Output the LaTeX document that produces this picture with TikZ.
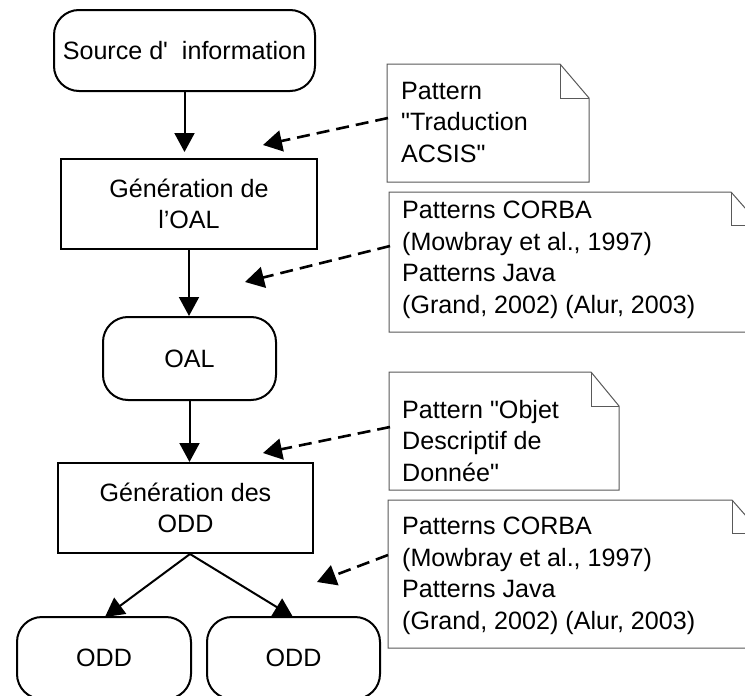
\documentclass[tikz,border=0pt]{standalone}
\usepackage{fontspec}
\setmainfont{Liberation Sans}
\usetikzlibrary{arrows.meta}
\begin{document}
\begin{tikzpicture}[x=1pt,y=-1pt,
  every node/.style={font=\fontsize{25.1}{31}\selectfont, inner sep=0pt},
  rbox/.style n args={2}{draw, line width=2pt, rounded corners=25pt, minimum width=#1pt, minimum height=#2pt, align=center},
  sbox/.style n args={2}{draw, line width=2pt, minimum width=#1pt, minimum height=#2pt, align=center},
  flow/.style={line width=2pt, -{Triangle[length=19pt,width=20pt]}},
  dflow/.style={line width=2.6pt, dash pattern=on 13pt off 7pt, -{Triangle[length=19pt,width=21pt]}},
  notebox/.style={draw=black!65, line width=1pt, line join=miter},
  notetext/.style={anchor=north west, align=left, font=\fontsize{25.1}{31.5}\selectfont}
]
\clip (0,0) rectangle (745,696);
\fill[white] (0,0) rectangle (745,696);

% flow nodes
\node[rbox={261}{81}] (src) at (184.5,50.5) {Source d\textquotesingle\ \ information};
\node[sbox={256}{90}] (genOAL) at (189,204) {Génération de\\l’OAL};
\node[rbox={173}{83}] (oal) at (189.5,358.5) {OAL};
\node[sbox={255}{90}] (genODD) at (185.5,508) {Génération des\\ODD};
\node[rbox={174}{82}] (odd1) at (104,658) {ODD};
\node[rbox={173}{82}] (odd2) at (293.5,658) {ODD};

% solid connectors
\draw[flow, shorten >=6pt] (src.south) -- (src.south |- genOAL.north);
\draw[flow] (genOAL.south) -- (genOAL.south |- oal.north);
\draw[flow] (oal.south) -- (oal.south |- genODD.north);
\coordinate (split) at (190,554);
\draw[flow] (split) -- (105,617);
\draw[flow] (split) -- (293,617);

% notes
\draw[notebox] (387,64) -- (560,64) -- (589,98) -- (589,182) -- (387,182) -- cycle;
\draw[notebox] (560,64) -- (560,98) -- (589,98);
\draw[notebox] (389,192) -- (731,192) -- (760,225) -- (760,332) -- (389,332) -- cycle;
\draw[notebox] (731,192) -- (731,225) -- (760,225);
\draw[notebox] (389,372) -- (591,372) -- (619,406) -- (619,490) -- (389,490) -- cycle;
\draw[notebox] (591,372) -- (591,406) -- (619,406);
\draw[notebox] (388,500) -- (732,500) -- (761,533) -- (761,648) -- (388,648) -- cycle;
\draw[notebox] (732,500) -- (732,533) -- (761,533);

\node[notetext] (t1) at (401,82) {Pattern\\\textquotedbl Traduction\\ACSIS\textquotedbl};
\node[notetext] (t2) at (402,201) {Patterns CORBA\\(Mowbray et al., 1997)\\Patterns Java\\(Grand, 2002) (Alur, 2003)};
\node[notetext] (t3) at (402,400) {Pattern \textquotedbl Objet\\Descriptif de\\Donnée\textquotedbl};
\node[notetext] (t4) at (402,517) {Patterns CORBA\\(Mowbray et al., 1997)\\Patterns Java\\(Grand, 2002) (Alur, 2003)};

% dashed connectors
\coordinate (d1s) at (388,118); \coordinate (d1e) at (263,145);
\coordinate (d2s) at (390,246); \coordinate (d2e) at (245,282);
\coordinate (d3s) at (390,427); \coordinate (d3e) at (263,453);
\coordinate (d4s) at (388,555); \coordinate (d4e) at (317,582);
\draw[dflow] (d1s) -- (d1e);
\draw[dflow] (d2s) -- (d2e);
\draw[dflow] (d3s) -- (d3e);
\draw[dflow] (d4s) -- (d4e);
\end{tikzpicture}
\end{document}
